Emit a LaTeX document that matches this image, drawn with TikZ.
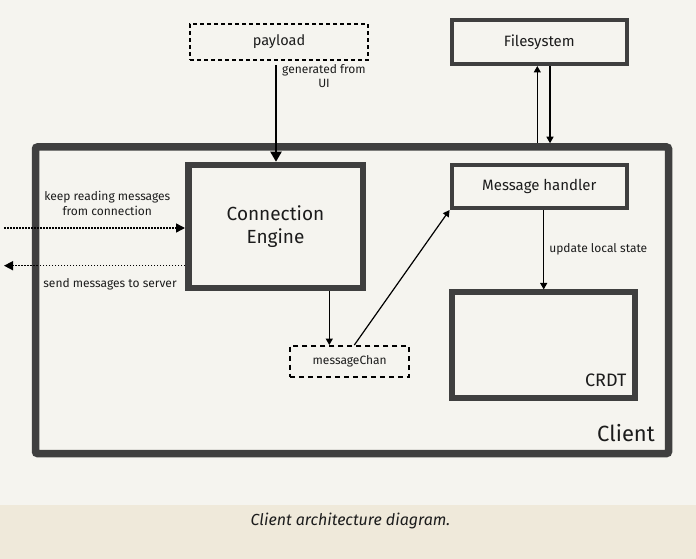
\documentclass[tikz,border=0pt]{standalone}
\usepackage{fontspec}
\setmainfont{Fira Sans}
\usetikzlibrary{arrows.meta, positioning}
\definecolor{paper}{HTML}{F5F4EF}
\definecolor{band}{HTML}{EFE9DA}
\definecolor{boxline}{HTML}{3F3F3F}
\definecolor{ink}{HTML}{1C1C1C}

\begin{document}
\begin{tikzpicture}[x=1pt, y=-1pt, font=\fontsize{12}{14.5}\selectfont, text=ink,
		box/.style={draw=boxline, rectangle, inner sep=0pt, align=center},
		dashbox/.style={draw=black, rectangle, inner sep=0pt, line width=1.6pt, dash pattern=on 4pt off 3pt},
		arr/.style={-{Triangle[length=6.5pt, width=7pt]}, line width=1.2pt},
		bigarr/.style={-{Triangle[length=10pt, width=11pt]}, line width=2pt},
		dotarr/.style={-{Triangle[length=9pt, width=9pt]}, line width=1.5pt, dash pattern=on 1.5pt off 1.5pt},
		lbl/.style={align=center, inner sep=0pt}]
		
		% Background
		\fill[paper] (0,0) rectangle (696,505);
		\fill[band] (0,505) rectangle (696,559);
		\useasboundingbox (0,0) rectangle (696,559);
		
		% Nodes
		\node[box, line width=7.5pt, rounded corners=2pt, minimum width=633pt, minimum height=306.5pt] (client) at (352,300.25) {};
		\node[lbl, font=\fontsize{22}{26}\selectfont, anchor=base east] (clientlbl) at (655,441) {Client};
		
		\node[dashbox, minimum width=178pt, minimum height=36pt, font=\fontsize{14.5}{17}\selectfont] (payload) at (279,42) {payload};
		
		\node[box, line width=6.5pt, minimum width=174.5pt, minimum height=123pt, font=\fontsize{19}{23}\selectfont] (conn) at (275.5,226.5) {Connection\\Engine};
		
		\node[box, line width=4pt, minimum width=175.5pt, minimum height=44pt, font=\fontsize{15}{18}\selectfont] (fs) at (539.3,42) {Filesystem};
		
		\node[box, line width=4pt, minimum width=175.5pt, minimum height=43.5pt, font=\fontsize{15}{18}\selectfont] (mh) at (539.3,186.3) {Message handler};
		
		\node[box, line width=6pt, minimum width=183.5pt, minimum height=105.5pt] (crdt) at (543.7,345.2) {};
		\node[lbl, font=\fontsize{18}{22}\selectfont, anchor=base east] (crdtlbl) at (626.5,386) {CRDT};
		
		\node[dashbox, line width=2pt, dash pattern=on 5pt off 4pt, minimum width=119.5pt, minimum height=30.5pt] (mc) at (349.7,361.3) {messageChan};
		
		\node[lbl] (genlbl) at (324,76) {generated from\\UI};
		\node[lbl] (inlbl) at (107.3,203.5) {keep reading messages\\from connection};
		\node[lbl] (outlbl) at (110,284.3) {send messages to server};
		
		% Arrows
		\coordinate (payL) at ([xshift=-3pt]payload.south);
		\draw[bigarr, shorten <=4pt] (payL) -- (payL |- conn.north);
		
		\coordinate (fsL) at ([xshift=-2pt]fs.south);
		\coordinate (fsR) at ([xshift=10.7pt]fs.south);
		\draw[arr] (fsL |- client.north) -- (fsL);
		\draw[arr] (fsR) -- (fsR |- client.north);
		
		\draw[arr] (mh.south -| crdt.north) -- (crdt.north) node[midway, right=5pt, inner sep=0pt] (updlbl) {update local state};
		
		\coordinate (mcL) at ([xshift=-20.4pt]mc.north);
		\coordinate (mcR) at ([xshift=4.6pt]mc.north);
		\draw[arr] (mcL |- conn.south) -- (mcL);
		\draw[arr] (mcR) -- (mh.south west);
		
		\coordinate (inL) at (4,228);
		\coordinate (outL) at (4,265.7);
		\draw[dotarr] (inL) -- (inL -| conn.west);
		\draw[dotarr] (outL -| conn.west) -- (outL);
		
		% Caption
		\node[font=\fontsize{16}{19}\selectfont\itshape] (caption) at (350.5,521) {Client architecture diagram.};
		
\end{tikzpicture}
\end{document}
